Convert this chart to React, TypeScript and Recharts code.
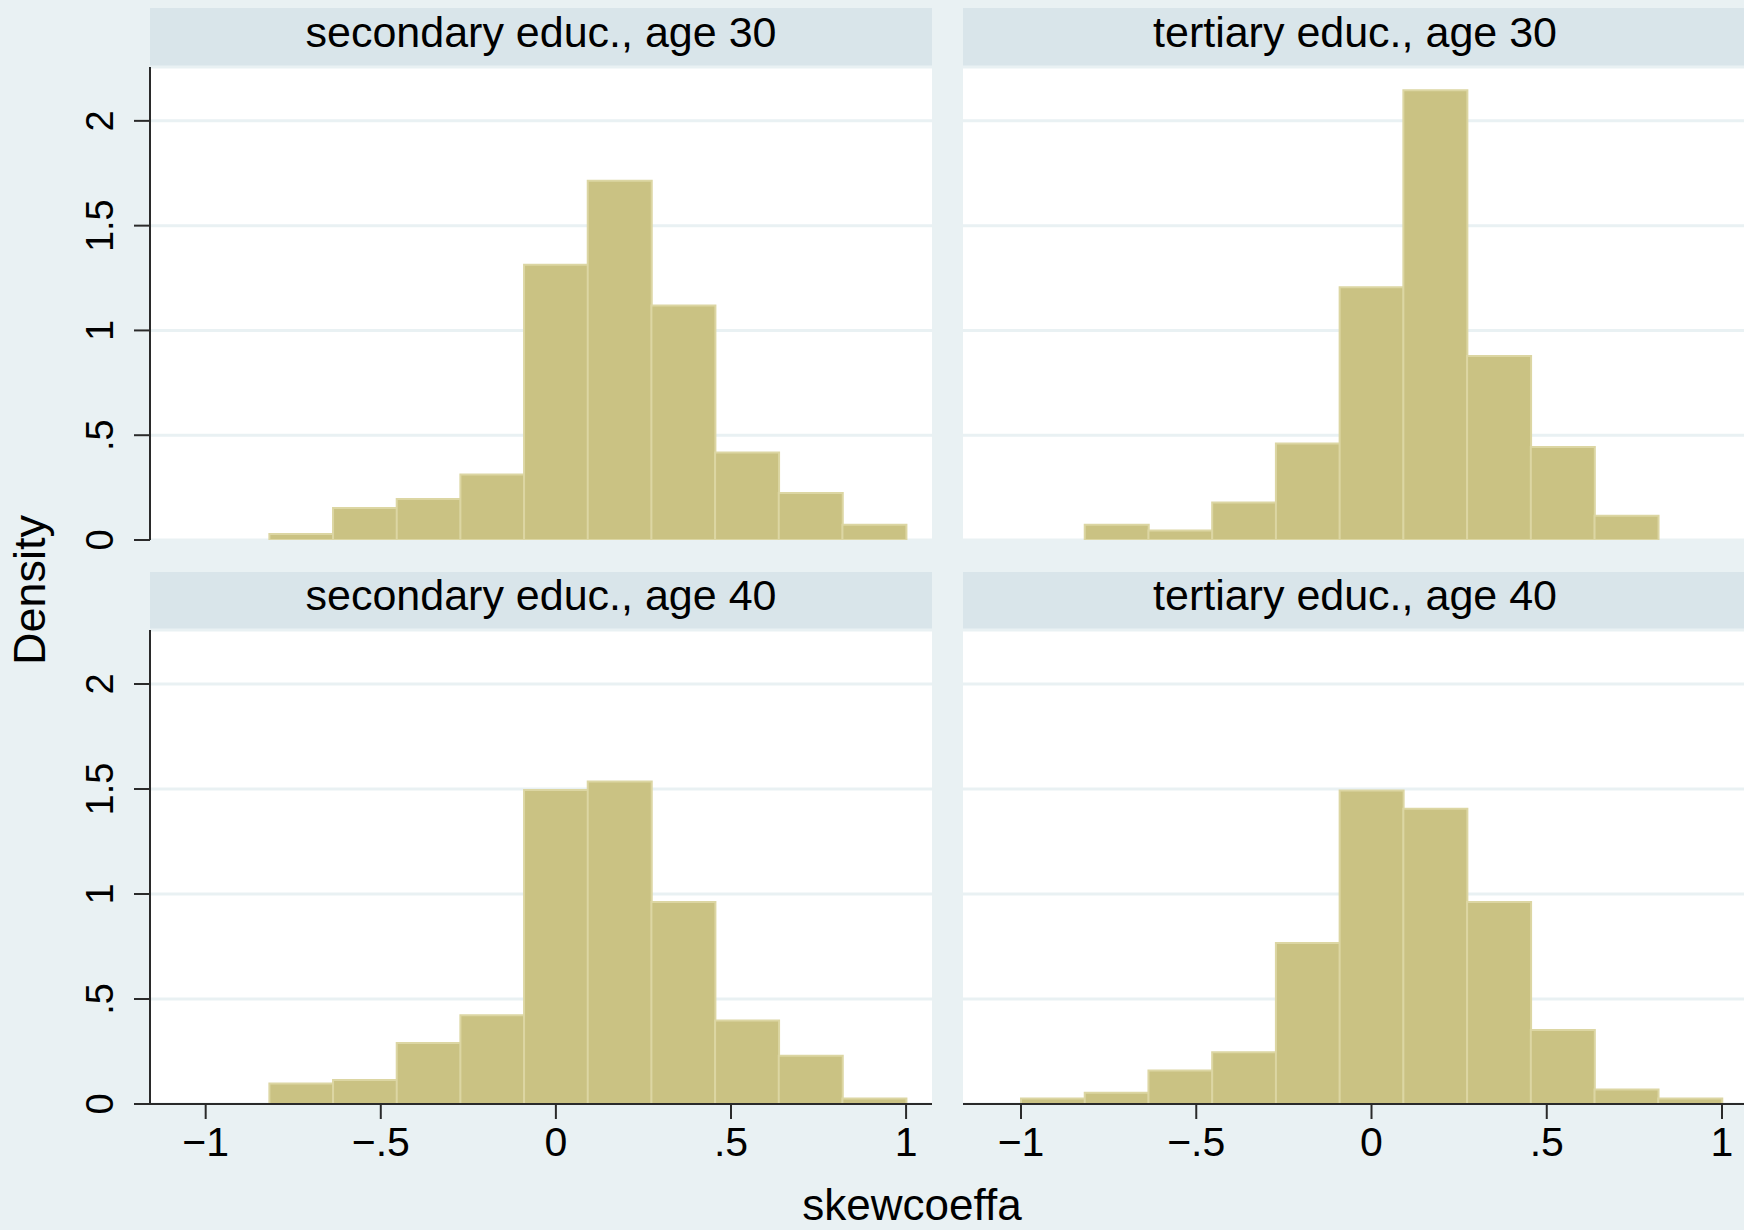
import React from 'react';
import { BarChart, Bar, XAxis, YAxis, CartesianGrid } from 'recharts';

// Bin centres (11 bins of width 2/11 spanning -1 .. 1)
const binCenters = [-0.909, -0.727, -0.545, -0.364, -0.182, 0.0, 0.182, 0.364, 0.545, 0.727, 0.909];

// Density per bin (null = empty bin)
const secondary30 = [null, 0.029, 0.153, 0.196, 0.312, 1.313, 1.714, 1.119, 0.418, 0.224, 0.073];
const tertiary30 = [null, 0.073, 0.045, 0.179, 0.461, 1.206, 2.146, 0.878, 0.444, 0.116, null];
const secondary40 = [null, 0.098, 0.114, 0.291, 0.423, 1.495, 1.536, 0.962, 0.397, 0.23, 0.026];
const tertiary40 = [0.026, 0.053, 0.159, 0.246, 0.767, 1.493, 1.406, 0.962, 0.352, 0.069, 0.026];

const panelTitles = [
  'secondary educ., age 30',
  'tertiary educ., age 30',
  'secondary educ., age 40',
  'tertiary educ., age 40',
];

const xTickValues = [-1, -0.5, 0, 0.5, 1];
const xTickLabels = ['\u22121', '\u2212.5', '0', '.5', '1'];
const yTickValues = [0, 0.5, 1, 1.5, 2];
const yTickLabels = ['0', '.5', '1', '1.5', '2'];

const yAxisTitle = 'Density';
const xAxisTitle = 'skewcoeffa';

const FONT = '"Liberation Sans", Arial, Helvetica, sans-serif';
const BG = '#E9F1F3';
const STRIP = '#D9E5EA';
const GRID = '#E9F1F3';
const BAR = '#CAC283';
const BAR_EDGE = '#DCD6A3';
const AXIS = '#2a2a2a';
const Y_DOMAIN: [number, number] = [0, 2.257];

function makeRows(values: (number | null)[]) {
  return binCenters.map((c, i) => ({ bin: String(i), c, v: values[i] }));
}

const YTick = (props: any) => {
  const { x, y, payload } = props;
  const idx = yTickValues.indexOf(payload.value);
  return (
    <text
      x={x}
      y={y}
      transform={`rotate(-90 ${x} ${y})`}
      textAnchor="middle"
      fontSize={38}
      fontFamily={FONT}
      fill="#000"
    >
      {idx >= 0 ? yTickLabels[idx] : payload.value}
    </text>
  );
};

const XTick = (props: any) => {
  const { x, y, payload } = props;
  const idx = xTickValues.indexOf(payload.value);
  return (
    <text x={x} y={y + 37} textAnchor="middle" fontSize={41} fontFamily={FONT} fill="#000">
      {idx >= 0 ? xTickLabels[idx] : payload.value}
    </text>
  );
};

type PanelProps = {
  values: (number | null)[];
  left: number;
  top: number;
  width: number;
  height: number;
  margin: { top: number; right: number; bottom: number; left: number };
  showY: boolean;
  showX: boolean;
  xDomain: [number, number];
  padLeft: number;
  padRight: number;
};

function Panel(p: PanelProps) {
  const data = makeRows(p.values);
  return (
    <div style={{ position: 'absolute', left: p.left, top: p.top, width: p.width, height: p.height }}>
      <BarChart
        width={p.width}
        height={p.height}
        data={data}
        margin={p.margin}
        barCategoryGap={0}
        barGap={0}
      >
        <CartesianGrid
          xAxisId="bins"
          vertical={false}
          horizontal={true}
          fill="#FFFFFF"
          stroke={GRID}
          strokeWidth={3}
        />
        <XAxis
          xAxisId="bins"
          dataKey="bin"
          type="category"
          orientation="top"
          hide
          padding={{ left: p.padLeft, right: p.padRight }}
        />
        {p.showX && (
          <XAxis
            xAxisId="num"
            dataKey="c"
            type="number"
            orientation="bottom"
            domain={p.xDomain}
            allowDataOverflow
            ticks={xTickValues}
            interval={0}
            height={70}
            tickSize={15}
            tickMargin={0}
            axisLine={{ stroke: AXIS, strokeWidth: 2 }}
            tickLine={{ stroke: AXIS, strokeWidth: 2 }}
            tick={<XTick />}
          />
        )}
        <YAxis
          type="number"
          domain={Y_DOMAIN}
          allowDataOverflow
          ticks={yTickValues}
          interval={0}
          hide={!p.showY}
          width={150}
          tickSize={16}
          tickMargin={21}
          axisLine={{ stroke: AXIS, strokeWidth: 2 }}
          tickLine={{ stroke: AXIS, strokeWidth: 2 }}
          tick={<YTick />}
        />
        <Bar
          xAxisId="bins"
          dataKey="v"
          fill={BAR}
          stroke={BAR_EDGE}
          strokeWidth={2}
          isAnimationActive={false}
        />
      </BarChart>
    </div>
  );
}

const LEFT_DOMAIN: [number, number] = [-1.159, 1.074];
const RIGHT_DOMAIN: [number, number] = [-1.1655, 1.0656];

export default function App() {
  return (
    <div
      style={{
        position: 'absolute',
        left: 0,
        top: 0,
        width: 1744,
        height: 1230,
        overflow: 'hidden',
        background: BG,
        fontFamily: FONT,
      }}
    >
      <svg width={1744} height={1230} style={{ position: 'absolute', left: 0, top: 0 }}>
        <rect x={0} y={0} width={1744} height={1230} fill={BG} />
        <rect x={150} y={8} width={782} height={59} fill={STRIP} />
        <rect x={963} y={8} width={790} height={59} fill={STRIP} />
        <rect x={150} y={572} width={782} height={58} fill={STRIP} />
        <rect x={963} y={572} width={790} height={58} fill={STRIP} />
        <text x={541} y={47} textAnchor="middle" fontSize={43} fontFamily={FONT} fill="#000">
          {panelTitles[0]}
        </text>
        <text x={1355} y={47} textAnchor="middle" fontSize={43} fontFamily={FONT} fill="#000">
          {panelTitles[1]}
        </text>
        <text x={541} y={610} textAnchor="middle" fontSize={43} fontFamily={FONT} fill="#000">
          {panelTitles[2]}
        </text>
        <text x={1355} y={610} textAnchor="middle" fontSize={43} fontFamily={FONT} fill="#000">
          {panelTitles[3]}
        </text>
        <text
          x={45}
          y={590}
          transform="rotate(-90 45 590)"
          textAnchor="middle"
          fontSize={45}
          fontFamily={FONT}
          fill="#000"
        >
          {yAxisTitle}
        </text>
        <text x={912} y={1220} textAnchor="middle" fontSize={44} fontFamily={FONT} fill="#000">
          {xAxisTitle}
        </text>
      </svg>

      <Panel
        values={secondary30}
        left={0}
        top={60}
        width={940}
        height={490}
        margin={{ top: 7, right: 8, bottom: 10, left: 0 }}
        showY={true}
        showX={false}
        xDomain={LEFT_DOMAIN}
        padLeft={55.7}
        padRight={25.9}
      />
      <Panel
        values={tertiary30}
        left={940}
        top={60}
        width={810}
        height={490}
        margin={{ top: 7, right: 5, bottom: 10, left: 23 }}
        showY={false}
        showX={false}
        xDomain={RIGHT_DOMAIN}
        padLeft={58}
        padRight={23}
      />
      <Panel
        values={secondary40}
        left={0}
        top={620}
        width={940}
        height={554}
        margin={{ top: 10, right: 8, bottom: 0, left: 0 }}
        showY={true}
        showX={true}
        xDomain={LEFT_DOMAIN}
        padLeft={55.7}
        padRight={25.9}
      />
      <Panel
        values={tertiary40}
        left={940}
        top={620}
        width={810}
        height={554}
        margin={{ top: 10, right: 5, bottom: 0, left: 23 }}
        showY={false}
        showX={true}
        xDomain={RIGHT_DOMAIN}
        padLeft={58}
        padRight={23}
      />
    </div>
  );
}
